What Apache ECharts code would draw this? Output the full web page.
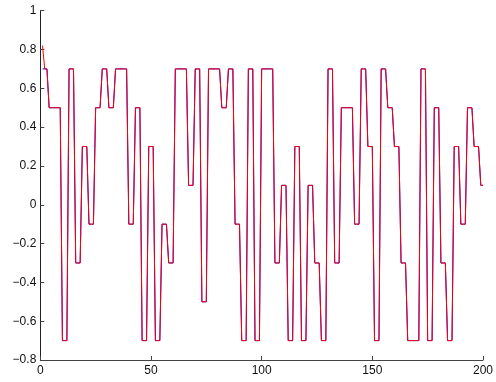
<!DOCTYPE html>
<html>
<head>
<meta charset="utf-8">
<script src="https://cdn.jsdelivr.net/npm/echarts@6/dist/echarts.min.js"></script>
<style>
  html, body { margin: 0; padding: 0; background: #fff; }
  #chart { width: 496px; height: 382px; }
</style>
</head>
<body>
<div id="chart"></div>
<script>
// Sample values (x = 1..200)
const blueSeries = [
  0.7,0.7,0.7, 0.5,0.5,0.5, 0.5,0.5,0.5, -0.7,-0.7,-0.7, 0.7,0.7,0.7, -0.3,-0.3,-0.3, 0.3,0.3,0.3, -0.1,-0.1,-0.1, 0.5,0.5,0.5, 0.7,0.7,0.7,
  0.5,0.5,0.5, 0.7,0.7,0.7, 0.7,0.7,0.7, -0.1,-0.1,-0.1, 0.5,0.5,0.5, -0.7,-0.7,-0.7, 0.3,0.3,0.3, -0.7,-0.7,-0.7, -0.1,-0.1,-0.1, -0.3,-0.3,-0.3,
  0.7,0.7,0.7, 0.7,0.7,0.7, 0.1,0.1,0.1, 0.7,0.7,0.7, -0.5,-0.5,-0.5, 0.7,0.7,0.7, 0.7,0.7,0.7, 0.5,0.5,0.5, 0.7,0.7,0.7, -0.1,-0.1,-0.1,
  -0.7,-0.7,-0.7, 0.7,0.7,0.7, -0.7,-0.7,-0.7, 0.7,0.7,0.7, 0.7,0.7,0.7, -0.3,-0.3,-0.3, 0.1,0.1,0.1, -0.7,-0.7,-0.7, 0.3,0.3,0.3, -0.7,-0.7,-0.7,
  0.1,0.1,0.1, -0.3,-0.3,-0.3, -0.7,-0.7,-0.7, 0.7,0.7,0.7, -0.3,-0.3,-0.3, 0.5,0.5,0.5, 0.5,0.5,0.5, -0.1,-0.1,-0.1, 0.7,0.7,0.7, 0.3,0.3,0.3,
  -0.7,-0.7,-0.7, 0.7,0.7,0.7, 0.5,0.5,0.5, 0.3,0.3,0.3, -0.3,-0.3,-0.3, -0.7,-0.7,-0.7, -0.7,-0.7,-0.7, 0.7,0.7,0.7, -0.7,-0.7,-0.7, 0.5,0.5,0.5,
  -0.3,-0.3,-0.3, -0.7,-0.7,-0.7, 0.3,0.3,0.3, -0.1,-0.1,-0.1, 0.5,0.5,0.5, 0.3,0.3,0.3, 0.1,0.1
];
const redSeries = [
  0.82,0.7,0.7, 0.5,0.5,0.5, 0.5,0.5,0.5, -0.7,-0.7,-0.7, 0.7,0.7,0.7, -0.3,-0.3,-0.3, 0.3,0.3,0.3, -0.1,-0.1,-0.1, 0.5,0.5,0.5, 0.7,0.7,0.7,
  0.5,0.5,0.5, 0.7,0.7,0.7, 0.7,0.7,0.7, -0.1,-0.1,-0.1, 0.5,0.5,0.5, -0.7,-0.7,-0.7, 0.3,0.3,0.3, -0.7,-0.7,-0.7, -0.1,-0.1,-0.1, -0.3,-0.3,-0.3,
  0.7,0.7,0.7, 0.7,0.7,0.7, 0.1,0.1,0.1, 0.7,0.7,0.7, -0.5,-0.5,-0.5, 0.7,0.7,0.7, 0.7,0.7,0.7, 0.5,0.5,0.5, 0.7,0.7,0.7, -0.1,-0.1,-0.1,
  -0.7,-0.7,-0.7, 0.7,0.7,0.7, -0.7,-0.7,-0.7, 0.7,0.7,0.7, 0.7,0.7,0.7, -0.3,-0.3,-0.3, 0.1,0.1,0.1, -0.7,-0.7,-0.7, 0.3,0.3,0.3, -0.7,-0.7,-0.7,
  0.1,0.1,0.1, -0.3,-0.3,-0.3, -0.7,-0.7,-0.7, 0.7,0.7,0.7, -0.3,-0.3,-0.3, 0.5,0.5,0.5, 0.5,0.5,0.5, -0.1,-0.1,-0.1, 0.7,0.7,0.7, 0.3,0.3,0.3,
  -0.7,-0.7,-0.7, 0.7,0.7,0.7, 0.5,0.5,0.5, 0.3,0.3,0.3, -0.3,-0.3,-0.3, -0.7,-0.7,-0.7, -0.7,-0.7,-0.7, 0.7,0.7,0.7, -0.7,-0.7,-0.7, 0.5,0.5,0.5,
  -0.3,-0.3,-0.3, -0.7,-0.7,-0.7, 0.3,0.3,0.3, -0.1,-0.1,-0.1, 0.5,0.5,0.5, 0.3,0.3,0.3, 0.1,0.1
];
const xTicks = { min: 0, max: 200, interval: 50 };
const yTicks = { min: -0.8, max: 1, interval: 0.2 };

const toPairs = arr => arr.map((v, i) => [i + 1, v]);

function fmtY(v) {
  const r = Math.round(v * 10) / 10;
  if (r === 0) return '0';
  if (r === 1) return '1';
  const s = Math.abs(r).toFixed(1);
  return (r < 0 ? '\u2212' : '') + s;
}

const chart = echarts.init(document.getElementById('chart'), null, { renderer: 'canvas' });
chart.setOption({
  animation: false,
  backgroundColor: '#ffffff',
  grid: { left: 40.3, right: 10.3, top: 10.7, bottom: 22, containLabel: false },
  xAxis: {
    type: 'value',
    min: xTicks.min, max: xTicks.max, interval: xTicks.interval,
    axisLine: { show: true, onZero: false, lineStyle: { color: '#444', width: 1 } },
    axisTick: { show: true, inside: true, length: 4, lineStyle: { color: '#444' } },
    axisLabel: { color: '#111', fontFamily: 'Liberation Sans, Arial, sans-serif', fontSize: 12, margin: 5 },
    splitLine: { show: false }
  },
  yAxis: {
    type: 'value',
    min: yTicks.min, max: yTicks.max, interval: yTicks.interval,
    axisLine: { show: true, onZero: false, lineStyle: { color: '#222', width: 1 } },
    axisTick: { show: true, inside: true, length: 4, lineStyle: { color: '#444' } },
    axisLabel: { color: '#111', fontFamily: 'Liberation Sans, Arial, sans-serif', fontSize: 12, margin: 4, formatter: fmtY },
    splitLine: { show: false }
  },
  series: [
    {
      name: 'blue', type: 'line', data: toPairs(blueSeries),
      showSymbol: false, symbol: 'none',
      lineStyle: { color: '#0000ff', width: 1 }, itemStyle: { color: '#0000ff' },
      z: 2
    },
    {
      name: 'red', type: 'line', data: toPairs(redSeries),
      showSymbol: false, symbol: 'none',
      lineStyle: { color: '#ff0000', width: 1 }, itemStyle: { color: '#ff0000' },
      z: 3
    }
  ]
});
</script>
</body>
</html>
